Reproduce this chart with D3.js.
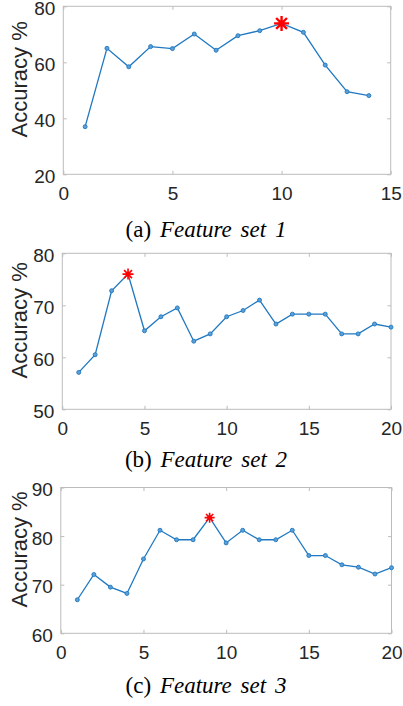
<!DOCTYPE html>
<html><head><meta charset="utf-8">
<script src="https://cdn.jsdelivr.net/npm/d3@7"></script>
<style>html,body{margin:0;padding:0;background:#fff;}svg{display:block;}</style>
</head><body>
<svg id="c" width="403" height="706"></svg>
<script>
// ---- data ----
const xs1 = [1,2,3,4,5,6,7,8,9,10,11,12,13,14];
const acc1 = [37.0,65.0,58.4,65.6,64.9,70.1,64.3,69.5,71.3,73.9,70.7,59.0,49.5,48.1];
const best1 = 10;
const xs2 = [1,2,3,4,5,6,7,8,9,10,11,12,13,14,15,16,17,18,19,20];
const acc2 = [57.1,60.5,72.8,76.0,65.1,67.8,69.5,63.1,64.5,67.8,69.0,71.0,66.4,68.3,68.3,68.3,64.5,64.5,66.4,65.8];
const best2 = 4;
const xs3 = [1,2,3,4,5,6,7,8,9,10,11,12,13,14,15,16,17,18,19,20];
const acc3 = [66.9,72.1,69.5,68.2,75.3,81.2,79.25,79.25,83.8,78.6,81.2,79.25,79.25,81.2,76.0,76.0,74.1,73.6,72.2,73.5];
const best3 = 9;
const xTicks1 = [0,5,10,15], yTicks1 = [20,40,60,80];
const xTicks2 = [0,5,10,15,20], yTicks2 = [50,60,70,80];
const xTicks3 = [0,5,10,15,20], yTicks3 = [60,70,80,90];
const captions = [["(a) ","Feature set 1"],["(b) ","Feature set 2"],["(c) ","Feature set 3"]];
const yLabel = "Accuracy %";

// ---- layout ----
const panels = [
  {xs:xs1, ys:acc1, best:best1, xt:xTicks1, yt:yTicks1, cap:captions[0],
   L:63.3, R:390.7, T:6.3, B:174.3, capY:236.5, star:15},
  {xs:xs2, ys:acc2, best:best2, xt:xTicks2, yt:yTicks2, cap:captions[1],
   L:62.3, R:391, T:253.3, B:409.3, capY:467, star:11},
  {xs:xs3, ys:acc3, best:best3, xt:xTicks3, yt:yTicks3, cap:captions[2],
   L:60.8, R:391.5, T:487.5, B:633.3, capY:692.5, star:10}
];
const svg = d3.select("#c");
const axisCol = "#bcbcbc", textCol = "#262626", lineCol = "#1f78c1", starCol = "#ff0000";
const tickLen = 3.5;

panels.forEach(p => {
  const x = d3.scaleLinear().domain([p.xt[0], p.xt[p.xt.length-1]]).range([p.L, p.R]);
  const y = d3.scaleLinear().domain([p.yt[0], p.yt[p.yt.length-1]]).range([p.B, p.T]);
  const g = svg.append("g");
  g.append("rect").attr("x",p.L).attr("y",p.T).attr("width",p.R-p.L).attr("height",p.B-p.T)
    .attr("fill","none").attr("stroke",axisCol).attr("stroke-width",1);
  const ax = [
    [d3.axisBottom(x).tickValues(p.xt).tickSize(-tickLen), p.B],
    [d3.axisTop(x).tickValues(p.xt).tickSize(-tickLen).tickFormat(""), p.T]
  ];
  ax.forEach(([a,ty]) => {
    const gg = g.append("g").attr("transform",`translate(0,${ty})`).call(a);
    gg.select(".domain").remove();
    gg.selectAll("line").attr("stroke",axisCol);
    gg.selectAll("text").attr("font-family","'Liberation Sans',Arial,sans-serif")
      .attr("font-size",19).attr("fill",textCol).attr("dy",null).attr("y",26);
  });
  const ay = [
    [d3.axisLeft(y).tickValues(p.yt).tickSize(-tickLen), p.L],
    [d3.axisRight(y).tickValues(p.yt).tickSize(-tickLen).tickFormat(""), p.R]
  ];
  ay.forEach(([a,tx]) => {
    const gg = g.append("g").attr("transform",`translate(${tx},0)`).call(a);
    gg.select(".domain").remove();
    gg.selectAll("line").attr("stroke",axisCol);
    gg.selectAll("text").attr("font-family","'Liberation Sans',Arial,sans-serif")
      .attr("font-size",19).attr("fill",textCol).attr("x",-8).attr("dy","0.42em");
  });
  const cy = (p.T+p.B)/2 - 11;
  g.append("text").attr("transform",`translate(27,${cy}) rotate(-90)`)
    .attr("text-anchor","middle").attr("font-family","'Liberation Sans',Arial,sans-serif")
    .attr("font-size",22).attr("fill",textCol).text(yLabel);
  const pts = p.xs.map((v,i)=>[v,p.ys[i]]);
  g.append("path").datum(pts)
    .attr("d", d3.line().x(d=>x(d[0])).y(d=>y(d[1])))
    .attr("fill","none").attr("stroke",lineCol).attr("stroke-width",1.3);
  g.selectAll("circle.m").data(pts).enter().append("circle")
    .attr("cx",d=>x(d[0])).attr("cy",d=>y(d[1])).attr("r",2)
    .attr("fill","#5c9fd6").attr("stroke",lineCol).attr("stroke-width",0.9);
  const bi = p.xs.indexOf(p.best);
  const sx = x(p.best), sy = y(p.ys[bi]), r = p.star/2, d = r*0.72;
  const path = d3.path();
  path.moveTo(sx-r,sy); path.lineTo(sx+r,sy);
  path.moveTo(sx,sy-r); path.lineTo(sx,sy+r);
  path.moveTo(sx-d,sy-d); path.lineTo(sx+d,sy+d);
  path.moveTo(sx-d,sy+d); path.lineTo(sx+d,sy-d);
  g.append("path").attr("d",path.toString()).attr("stroke",starCol)
    .attr("stroke-width", p.star>12 ? 2.4 : 1.6).attr("fill","none");
  const t = g.append("text").attr("x",206).attr("y",p.capY).attr("text-anchor","middle")
    .attr("font-family","'Liberation Serif','Times New Roman',serif").attr("font-size",23)
    .attr("fill","#000").attr("word-spacing",3);
  t.append("tspan").text(p.cap[0]);
  t.append("tspan").attr("font-style","italic").text(p.cap[1]);
});
</script>
</body></html>
